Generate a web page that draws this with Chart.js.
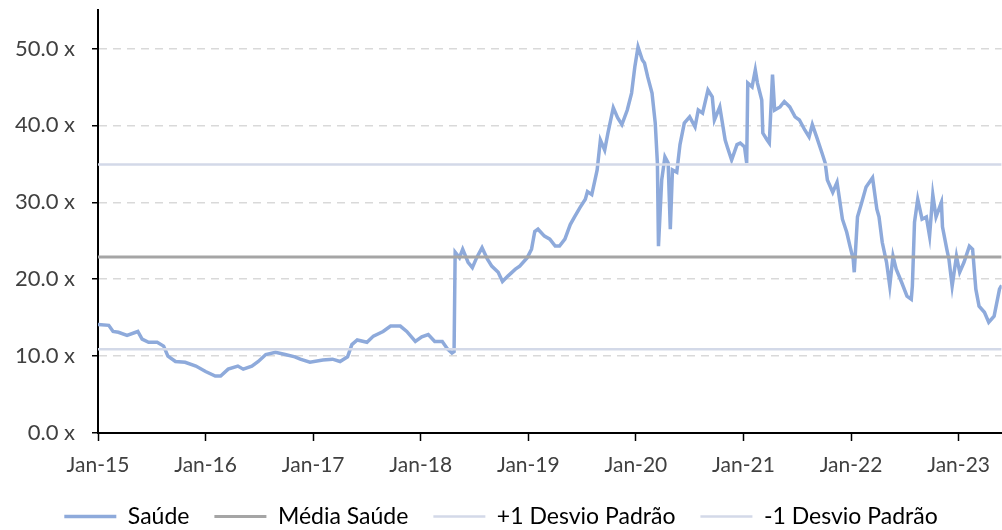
<!DOCTYPE html>
<html>
<head>
<meta charset="utf-8">
<script src="https://cdn.jsdelivr.net/npm/chart.js@4.4.0/dist/chart.umd.min.js"></script>
<style>
  html, body { margin: 0; padding: 0; background: #fff; }
</style>
</head>
<body>
<canvas id="grafico" width="1002" height="530"></canvas>
<script>
// datas em anos decimais (2015.00 = jan/2015)
const datas = [
  2015.00, 2015.10, 2015.14, 2015.19, 2015.27, 2015.37, 2015.41, 2015.47, 2015.55, 2015.61,
  2015.65, 2015.72, 2015.81, 2015.91, 2016.00, 2016.09, 2016.14, 2016.21, 2016.30, 2016.35,
  2016.43, 2016.49, 2016.56, 2016.65, 2016.74, 2016.83, 2016.88, 2016.97, 2017.09, 2017.18,
  2017.25, 2017.32, 2017.36, 2017.41, 2017.50, 2017.56, 2017.65, 2017.72, 2017.81, 2017.87,
  2017.95, 2018.01, 2018.07, 2018.13, 2018.20, 2018.25, 2018.29, 2018.31, 2018.32, 2018.36,
  2018.39, 2018.44, 2018.48, 2018.52, 2018.57, 2018.62, 2018.66, 2018.72, 2018.76, 2018.81,
  2018.88, 2018.92, 2018.99, 2019.03, 2019.06, 2019.09, 2019.15, 2019.20, 2019.25, 2019.29,
  2019.34, 2019.39, 2019.43, 2019.48, 2019.53, 2019.55, 2019.59, 2019.62, 2019.64, 2019.67,
  2019.71, 2019.74, 2019.79, 2019.83, 2019.87, 2019.92, 2019.96, 2019.99, 2020.02, 2020.06,
  2020.08, 2020.11, 2020.15, 2020.18, 2020.20, 2020.21, 2020.24, 2020.27, 2020.30, 2020.32,
  2020.34, 2020.38, 2020.41, 2020.45, 2020.50, 2020.55, 2020.58, 2020.62, 2020.67, 2020.71,
  2020.73, 2020.78, 2020.83, 2020.85, 2020.89, 2020.94, 2020.97, 2021.01, 2021.03, 2021.04,
  2021.08, 2021.11, 2021.13, 2021.17, 2021.18, 2021.22, 2021.24, 2021.27, 2021.29, 2021.34,
  2021.38, 2021.43, 2021.48, 2021.52, 2021.57, 2021.61, 2021.64, 2021.68, 2021.73, 2021.76,
  2021.78, 2021.83, 2021.87, 2021.89, 2021.92, 2021.96, 2021.99, 2022.02, 2022.03, 2022.06,
  2022.10, 2022.14, 2022.20, 2022.24, 2022.26, 2022.29, 2022.33, 2022.36, 2022.39, 2022.42,
  2022.47, 2022.52, 2022.56, 2022.57, 2022.59, 2022.62, 2022.66, 2022.70, 2022.73, 2022.76,
  2022.79, 2022.84, 2022.85, 2022.89, 2022.91, 2022.94, 2022.98, 2023.01, 2023.05, 2023.10,
  2023.13, 2023.16, 2023.19, 2023.24, 2023.28, 2023.33, 2023.38, 2023.40
];
const saude = [
  14.1, 14.0, 13.2, 13.1, 12.7, 13.2, 12.2, 11.8, 11.8, 11.3,
  10.0, 9.3, 9.2, 8.7, 8.0, 7.4, 7.4, 8.3, 8.7, 8.3,
  8.7, 9.3, 10.2, 10.5, 10.2, 9.9, 9.6, 9.2, 9.5, 9.6,
  9.3, 9.9, 11.5, 12.1, 11.8, 12.6, 13.2, 13.9, 13.9, 13.2,
  11.9, 12.5, 12.8, 11.9, 11.9, 10.9, 10.4, 10.6, 23.5, 22.8,
  23.9, 22.2, 21.5, 22.8, 24.1, 22.6, 21.7, 20.9, 19.7, 20.4,
  21.3, 21.7, 22.8, 23.9, 26.2, 26.5, 25.6, 25.2, 24.3, 24.3,
  25.2, 27.1, 28.1, 29.3, 30.4, 31.4, 31.0, 32.9, 34.2, 38.1,
  36.8, 39.0, 42.3, 41.0, 40.1, 42.0, 44.2, 47.6, 50.2, 48.5,
  48.1, 46.3, 44.2, 40.3, 35.1, 24.3, 32.9, 35.9, 35.1, 26.5,
  34.2, 33.9, 37.5, 40.3, 41.1, 39.8, 42.0, 41.6, 44.6, 43.7,
  40.7, 42.4, 38.1, 37.2, 35.5, 37.5, 37.7, 37.2, 35.1, 45.5,
  45.0, 47.2, 45.5, 43.3, 39.0, 38.1, 37.7, 46.6, 42.0, 42.4,
  43.1, 42.4, 41.1, 40.7, 39.4, 38.5, 40.1, 38.5, 36.4, 35.1,
  32.9, 31.3, 32.6, 30.7, 27.8, 26.1, 24.3, 22.6, 20.9, 28.1,
  30.0, 32.0, 33.2, 29.1, 28.1, 24.8, 22.2, 19.1, 23.0, 21.3,
  19.6, 17.8, 17.4, 19.1, 27.4, 30.4, 27.8, 28.1, 25.6, 31.0,
  28.1, 30.0, 26.8, 23.9, 22.6, 19.1, 23.0, 20.9, 22.2, 24.3,
  23.9, 18.7, 16.5, 15.7, 14.4, 15.2, 18.7, 19.2
];
const mediaSaude = 22.9;
const desvioMais = 34.9;
const desvioMenos = 10.9;
const anosTicks = [2015, 2016, 2017, 2018, 2019, 2020, 2021, 2022, 2023];
const yTicks = [0, 10, 20, 30, 40, 50];
const inicio = 2015;
const fim = 2023.40;

const fonte = "Lato, 'Open Sans', sans-serif";
const corTexto = '#404040';

function linhaHorizontal(valor) {
    return [{ x: inicio, y: valor }, { x: fim, y: valor }];
}

const ctx = document.getElementById('grafico').getContext('2d');
const grafico = new Chart(ctx, {
    type: 'line',
    data: {
        datasets: [
            {
                label: 'Saúde',
                data: datas.map((d, i) => ({ x: d, y: saude[i] })),
                borderColor: '#8eaadb',
                borderWidth: 3.5,
                pointRadius: 0,
                tension: 0,
                order: 1
            },
            {
                label: 'Média Saúde',
                data: linhaHorizontal(mediaSaude),
                borderColor: '#a5a5a5',
                borderWidth: 3,
                pointRadius: 0,
                order: 0
            },
            {
                label: '+1 Desvio Padrão',
                data: linhaHorizontal(desvioMais),
                borderColor: '#d3d9e8',
                borderWidth: 2.5,
                pointRadius: 0,
                order: 0
            },
            {
                label: '-1 Desvio Padrão',
                data: linhaHorizontal(desvioMenos),
                borderColor: '#d3d9e8',
                borderWidth: 2.5,
                pointRadius: 0,
                order: 0
            }
        ]
    },
    options: {
        responsive: false,
        animation: false,
        layout: { padding: { left: 0, right: 0, top: 10, bottom: -8 } },
        plugins: {
            tooltip: { enabled: false },
            legend: {
                position: 'bottom',
                labels: {
                    usePointStyle: true,
                    pointStyle: 'line',
                    pointStyleWidth: 52,
                    boxWidth: 52,
                    padding: 25,
                    color: '#000',
                    font: { family: fonte, size: 23 },
                    sort: (a, b) => a.datasetIndex - b.datasetIndex
                }
            }
        },
        scales: {
            x: {
                type: 'linear',
                min: inicio,
                max: fim,
                afterBuildTicks: s => { s.ticks = anosTicks.map(v => ({ value: v })); },
                afterFit: s => { s.height = 47; },
                ticks: {
                    color: corTexto,
                    font: { family: fonte, size: 21 },
                    padding: 12,
                    maxRotation: 0,
                    callback: v => 'Jan-' + String(v).slice(2)
                },
                grid: {
                    drawOnChartArea: false,
                    tickLength: 8,
                    tickColor: '#000',
                    tickWidth: 1.5
                },
                border: { color: '#000', width: 2 }
            },
            y: {
                min: 0,
                max: 55,
                afterBuildTicks: s => { s.ticks = yTicks.map(v => ({ value: v })); },
                afterFit: s => { s.width = 98; s.paddingTop = 0; s.paddingBottom = 0; },
                ticks: {
                    color: corTexto,
                    font: { family: fonte, size: 22 },
                    padding: 17,
                    callback: v => v.toFixed(1) + ' x'
                },
                grid: {
                    color: c => c.tick && c.tick.value === 0 ? 'rgba(0,0,0,0)' : '#d9d9d9',
                    lineWidth: 1.5,
                    tickLength: 6,
                    tickColor: '#000',
                    tickWidth: 1.5,
                    tickBorderDash: []
                },
                border: { color: '#000', width: 2, dash: [8, 6] }
            }
        }
    }
});
</script>
</body>
</html>
